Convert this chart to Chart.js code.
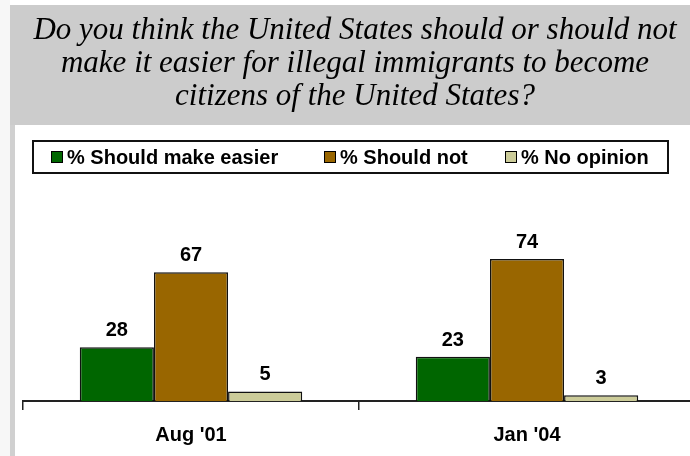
<!DOCTYPE html>
<html>
<head>
<meta charset="utf-8">
<script src="https://cdn.jsdelivr.net/npm/chart.js@4/dist/chart.umd.min.js"></script>
<style>
  html, body { margin: 0; padding: 0; background: #ffffff; overflow: hidden; }
  #wrap { width: 690px; height: 456px; position: relative; overflow: hidden; }
  canvas { display: block; }
</style>
</head>
<body>
<div id="wrap"><canvas id="c" width="695" height="456"></canvas></div>
<script>
// ---- Data ----
const categories = ["Aug '01", "Jan '04"];
const seriesNames = ["% Should make easier", "% Should not", "% No opinion"];
const shouldMakeEasier = [28, 23];
const shouldNot = [67, 74];
const noOpinion = [5, 3];
const titleLines = [
  "Do you think the United States should or should not",
  "make it easier for illegal immigrants to become",
  "citizens of the United States?"
];

const colors = ["#006600", "#996600", "#cccc99"];
const seriesValues = [shouldMakeEasier, shouldNot, noOpinion];

const backgroundPlugin = {
  id: 'bgPanel',
  beforeDraw(chart) {
    const ctx = chart.ctx;
    ctx.save();
    ctx.fillStyle = '#ffffff';
    ctx.fillRect(0, 0, chart.width, chart.height);
    ctx.fillStyle = '#f7f7f7';
    ctx.fillRect(0, 0, 10, chart.height);
    ctx.fillStyle = '#cccccc';
    ctx.fillRect(10, 5, chart.width - 10, 120);
    ctx.fillStyle = '#d0d0d0';
    ctx.fillRect(10, 125, 5, chart.height - 125);
    // title
    ctx.fillStyle = '#000000';
    ctx.font = 'italic 31px "Liberation Serif", "Times New Roman", serif';
    ctx.textAlign = 'center';
    ctx.textBaseline = 'alphabetic';
    const baselines = [39, 72, 105];
    titleLines.forEach((t, i) => ctx.fillText(t, 355, baselines[i]));
    ctx.restore();
  }
};

const legendPlugin = {
  id: 'boxLegend',
  afterDraw(chart) {
    const ctx = chart.ctx;
    ctx.save();
    ctx.strokeStyle = '#111111';
    ctx.lineWidth = 2;
    ctx.strokeRect(33, 141, 635, 32);
    const squareX = [51, 324, 505];
    ctx.font = 'bold 20px "Liberation Sans", Arial, sans-serif';
    ctx.textAlign = 'left';
    ctx.textBaseline = 'alphabetic';
    chart.data.datasets.forEach((ds, i) => {
      ctx.fillStyle = ds.backgroundColor;
      ctx.fillRect(squareX[i] + 0.5, 151.5, 11, 11);
      ctx.lineWidth = 1;
      ctx.strokeStyle = '#000000';
      ctx.strokeRect(squareX[i] + 0.5, 151.5, 11, 11);
      ctx.fillStyle = '#000000';
      ctx.fillText(ds.label, squareX[i] + 16, 164);
    });
    ctx.restore();
  }
};

const valueLabelPlugin = {
  id: 'valueLabels',
  afterDatasetsDraw(chart) {
    const ctx = chart.ctx;
    ctx.save();
    ctx.font = 'bold 20px "Liberation Sans", Arial, sans-serif';
    ctx.fillStyle = '#000000';
    ctx.textAlign = 'center';
    ctx.textBaseline = 'alphabetic';
    chart.data.datasets.forEach((ds, i) => {
      chart.getDatasetMeta(i).data.forEach((bar, j) => {
        ctx.fillText(String(ds.data[j]), bar.x, bar.y - 11);
      });
    });
    ctx.restore();
  }
};

new Chart(document.getElementById('c'), {
  type: 'bar',
  data: {
    labels: categories,
    datasets: seriesNames.map((name, i) => ({
      label: name,
      data: seriesValues[i],
      backgroundColor: colors[i],
      borderColor: '#111111',
      borderWidth: 1.5,
      borderSkipped: 'bottom',
      categoryPercentage: 0.662,
      barPercentage: 1.0
    }))
  },
  options: {
    responsive: false,
    animation: false,
    devicePixelRatio: 1,
    layout: { padding: { top: 209, left: 23, right: 0, bottom: 0 } },
    plugins: {
      legend: { display: false },
      title: { display: false },
      tooltip: { enabled: false }
    },
    scales: {
      x: {
        offset: true,
        afterFit(scale) { scale.height = 55; },
        grid: {
          offset: true,
          drawOnChartArea: false,
          drawTicks: true,
          tickLength: 9,
          color: '#222222',
          lineWidth: 1.5
        },
        border: { display: true, color: '#222222', width: 2 },
        ticks: {
          color: '#000000',
          padding: 13,
          font: { family: '"Liberation Sans", Arial, sans-serif', size: 20, weight: 'bold' }
        }
      },
      y: {
        display: false,
        min: 0,
        max: 100
      }
    }
  },
  plugins: [backgroundPlugin, valueLabelPlugin, legendPlugin]
});
</script>
</body>
</html>
